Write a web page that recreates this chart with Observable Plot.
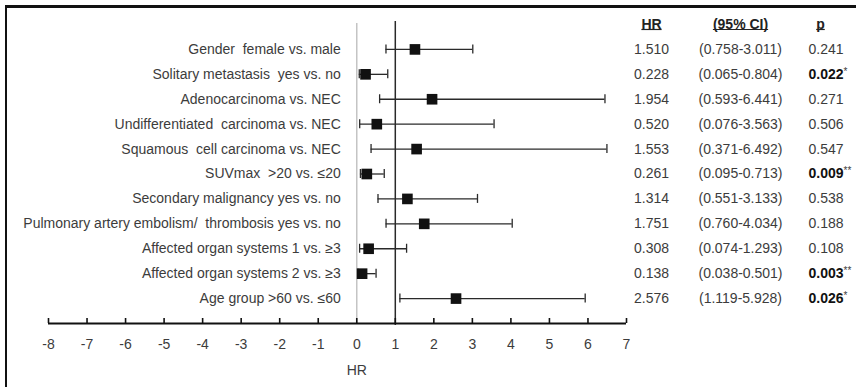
<!DOCTYPE html>
<html><head><meta charset="utf-8">
<script src="https://cdn.jsdelivr.net/npm/d3@7"></script>
<script src="https://cdn.jsdelivr.net/npm/@observablehq/plot@0.6"></script>
<style>
html,body{margin:0;padding:0;background:#fff;}
#wrap{position:relative;width:856px;height:387px;overflow:hidden;}
#border{position:absolute;left:5px;top:5px;width:900px;height:500px;border-top:3px solid #111;border-left:2px solid #111;pointer-events:none;}
svg text{white-space:pre;}
</style></head><body><div id="wrap"><div id="chart"></div><div id="border"></div></div>
<script>
const labels = [
  "Gender  female vs. male",
  "Solitary metastasis  yes vs. no",
  "Adenocarcinoma vs. NEC",
  "Undifferentiated  carcinoma vs. NEC",
  "Squamous  cell carcinoma vs. NEC",
  "SUVmax  >20 vs. \u226420",
  "Secondary malignancy yes vs. no",
  "Pulmonary artery embolism/  thrombosis yes vs. no",
  "Affected organ systems 1 vs. \u22653",
  "Affected organ systems 2 vs. \u22653",
  "Age group >60 vs. \u226460"
];
const hr = [1.510, 0.228, 1.954, 0.520, 1.553, 0.261, 1.314, 1.751, 0.308, 0.138, 2.576];
const lo = [0.758, 0.065, 0.593, 0.076, 0.371, 0.095, 0.551, 0.760, 0.074, 0.038, 1.119];
const hi = [3.011, 0.804, 6.441, 3.563, 6.492, 0.713, 3.133, 4.034, 1.293, 0.501, 5.928];
const pValues = ["0.241", "0.022", "0.271", "0.506", "0.547", "0.009", "0.538", "0.188", "0.108", "0.003", "0.026"];
const stars = ["", "*", "", "", "", "**", "", "", "", "**", "*"];
const headers = ["HR", "(95% CI)", "p"];
const tickValues = [-8, -7, -6, -5, -4, -3, -2, -1, 0, 1, 2, 3, 4, 5, 6, 7];
const tickLabels = ["-8", "-7", "-6", "-5", "-4", "-3", "-2", "-1", "0", "1", "2", "3", "4", "5", "6", "7"];
const axisTitle = "HR";

const fmt = d3.format(".3f");
const table = labels.map((label, i) => ({
  label, row: i + 1, hr: hr[i], lo: lo[i], hi: hi[i],
  hrText: fmt(hr[i]),
  ci: `(${fmt(lo[i])}-${fmt(hi[i])})`,
  p: pValues[i], star: stars[i], bold: stars[i] !== ""
}));
const headerRow = 0;
const axisRow = labels.length + 1;
const ink = "#2a2a2a";
const textColor = "#3c3c3c";

const headerDx = [25, 114, 194];

const chart = Plot.plot({
  width: 856, height: 387,
  marginTop: 20, marginBottom: 64, marginLeft: 48, marginRight: 230,
  x: {domain: [-8, 7], axis: null},
  y: {domain: [0, axisRow], range: [24, 323], axis: null},
  style: {fontFamily: "'Liberation Sans', Arial, sans-serif", fontSize: "14px", color: textColor, background: "#fff"},
  marks: [
    Plot.ruleX([0], {y1: headerRow, y2: axisRow, stroke: "#c4c4c4", strokeWidth: 1.5, insetTop: -1}),
    Plot.ruleX([1], {y1: headerRow, y2: axisRow, stroke: ink, strokeWidth: 1.5, insetTop: -3, insetBottom: -2}),
    Plot.ruleY([axisRow], {x1: tickValues[0], x2: tickValues[tickValues.length - 1], stroke: "#111", strokeWidth: 2}),
    Plot.ruleX(tickValues, {x: d => d, y1: axisRow, y2: axisRow, insetTop: -5, stroke: "#111", strokeWidth: 1.6}),
    Plot.text(tickValues, {x: d => d, y: axisRow, text: (d, i) => tickLabels[i], dy: 21, fill: textColor}),
    Plot.text([axisTitle], {x: 0, y: axisRow, text: d => d, dy: 47, fill: textColor}),
    Plot.ruleY(table, {y: "row", x1: "lo", x2: "hi", stroke: ink, strokeWidth: 1.3}),
    Plot.ruleX(table, {x: "lo", y1: "row", y2: "row", insetTop: -4.5, insetBottom: -4.5, stroke: ink, strokeWidth: 1.3}),
    Plot.ruleX(table, {x: "hi", y1: "row", y2: "row", insetTop: -4.5, insetBottom: -4.5, stroke: ink, strokeWidth: 1.3}),
    Plot.dot(table, {x: "hr", y: "row", symbol: "square", r: 6, fill: "#111", stroke: "none"}),
    Plot.text(table, {x: 0, y: "row", text: "label", textAnchor: "end", dx: -16, fill: textColor}),
    Plot.text(table, {y: "row", text: "hrText", frameAnchor: "right", textAnchor: "middle", dx: 25, fill: textColor}),
    Plot.text(table, {y: "row", text: "ci", frameAnchor: "right", textAnchor: "middle", dx: 114, fill: textColor}),
    Plot.text(table.filter(d => !d.bold), {y: "row", text: "p", frameAnchor: "right", textAnchor: "start", dx: 182, fill: textColor}),
    Plot.text(table.filter(d => d.bold), {y: "row", text: "p", frameAnchor: "right", textAnchor: "start", dx: 182, fill: "#111", fontWeight: "bold"}),
    Plot.text(table.filter(d => d.bold), {y: "row", text: "star", frameAnchor: "right", textAnchor: "start", dx: 217, dy: -3, fill: textColor, fontSize: 10}),
    ...headers.map((h, i) => Plot.text([h], {y: headerRow, text: d => d, frameAnchor: "right", textAnchor: "middle", dx: headerDx[i], fill: "#222", fontWeight: "bold"}))
  ]
});
document.getElementById("chart").appendChild(chart);
// underline the column headers
const svg = d3.select(chart);
const origin = chart.getBoundingClientRect();
svg.selectAll("text").each(function() {
  if (!headers.includes(this.textContent)) return;
  const b = this.getBoundingClientRect();
  const top = b.top - origin.top;
  if (top > 40) return;
  const x0 = b.left - origin.left, x1 = b.right - origin.left;
  const yl = b.bottom - origin.top - 2.5;
  svg.append("line")
    .attr("x1", x0).attr("x2", x1)
    .attr("y1", yl).attr("y2", yl)
    .attr("stroke", "#222").attr("stroke-width", 1.2);
});
</script>
</body></html>
